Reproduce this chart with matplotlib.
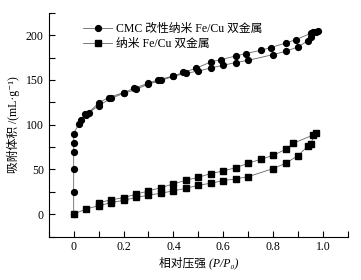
import numpy as np
import matplotlib
matplotlib.use('Agg')
import matplotlib.pyplot as plt
from matplotlib.ticker import MultipleLocator

plt.rcParams['font.family'] = ['Liberation Serif', 'Noto Sans CJK SC', 'DejaVu Sans']
plt.rcParams['axes.unicode_minus'] = False

# CMC 改性纳米 Fe/Cu 双金属 (吸附 + 脱附)
p_cmc = [0, 0, 0, 0, 0, 0, 0.02, 0.03, 0.05, 0.10, 0.15, 0.20, 0.25, 0.30, 0.35,
         0.40, 0.45, 0.50, 0.55, 0.60, 0.65, 0.70, 0.80, 0.85, 0.90, 0.94, 0.95,
         0.97,
         0.98, 0.96, 0.95, 0.89, 0.85, 0.79, 0.75, 0.69, 0.65, 0.59, 0.55, 0.49,
         0.44, 0.40, 0.34, 0.30, 0.24, 0.20, 0.14, 0.10, 0.06, 0.045]
v_cmc = [0, 25, 50, 70, 80, 90, 100.7, 105, 111, 121.5, 129.5, 135, 139.5, 145.5,
         149.5, 154, 157.5, 160, 163.5, 166.5, 169.5, 172, 178.4, 182, 187, 194,
         198, 204,
         205, 203.5, 202, 195, 191.3, 186.2, 183.2, 179.5, 176.8, 172.8, 170.2,
         163, 158.5, 154.5, 150.3, 146.5, 140.5, 136, 130.3, 124.5, 113.5, 111.8]

# 纳米 Fe/Cu 双金属 (吸附 + 脱附)
p_nano = [0, 0.05, 0.10, 0.15, 0.20, 0.25, 0.30, 0.35, 0.40, 0.45, 0.50, 0.55,
          0.60, 0.65, 0.70, 0.80, 0.85, 0.90, 0.94, 0.95,
          0.97, 0.96, 0.88, 0.85, 0.80, 0.75, 0.70, 0.65, 0.60, 0.55, 0.50,
          0.45, 0.40, 0.35, 0.30, 0.25, 0.20, 0.15, 0.10]
v_nano = [0, 6, 9.4, 13, 15.5, 18.7, 21.3, 23.5, 26.1, 29, 32.4, 34.6, 37.6,
          39.5, 42, 51, 57, 65.5, 76.5, 79,
          90.3, 88.5, 79.2, 72.5, 65.8, 61.4, 57, 52, 48.4, 45.4, 41.3, 38,
          33.9, 29.8, 26, 22.4, 18.6, 16, 13]

labels = ['CMC 改性纳米 Fe/Cu 双金属', '纳米 Fe/Cu 双金属']

fig = plt.figure(figsize=(3.61, 2.80), dpi=100)
ax = fig.add_axes([0.135, 0.155, 0.829, 0.799])

ax.plot(p_cmc, v_cmc, color='#666666', linewidth=0.6, marker='o', markersize=4.2,
        markerfacecolor='black', markeredgecolor='black', label=labels[0])
ax.plot(p_nano, v_nano, color='#666666', linewidth=0.6, marker='s', markersize=3.8,
        markerfacecolor='black', markeredgecolor='black', label=labels[1])

ax.set_xlim(-0.1, 1.1)
ax.set_ylim(-25, 225)
ax.xaxis.set_minor_locator(MultipleLocator(0.1))
ax.yaxis.set_major_locator(MultipleLocator(50))
ax.yaxis.set_minor_locator(MultipleLocator(25))
ax.set_xticks([0, 0.2, 0.4, 0.6, 0.8, 1.0])
ax.set_xticklabels(['0', '0.2', '0.4', '0.6', '0.8', '1.0'])
ax.tick_params(which='both', direction='in', length=4, width=0.8, labelsize=8.5)

ax.spines['top'].set_visible(False)
ax.spines['right'].set_visible(False)

# 斜体只作用于拉丁字符 (CJK 字体无斜体)
ax.set_xlabel('相对压强 (P/P₀)', fontsize=8.5, labelpad=2, fontstyle='italic')
ax.set_ylabel('吸附体积 /(mL·g⁻¹)', fontsize=8.5, labelpad=4)

ax.legend(loc='upper left', bbox_to_anchor=(0.09, 0.985), frameon=False,
          fontsize=8.5, handlelength=2.5, handletextpad=0.3, labelspacing=0.2,
          borderaxespad=0.2)

fig.savefig('out.png', dpi=100)
